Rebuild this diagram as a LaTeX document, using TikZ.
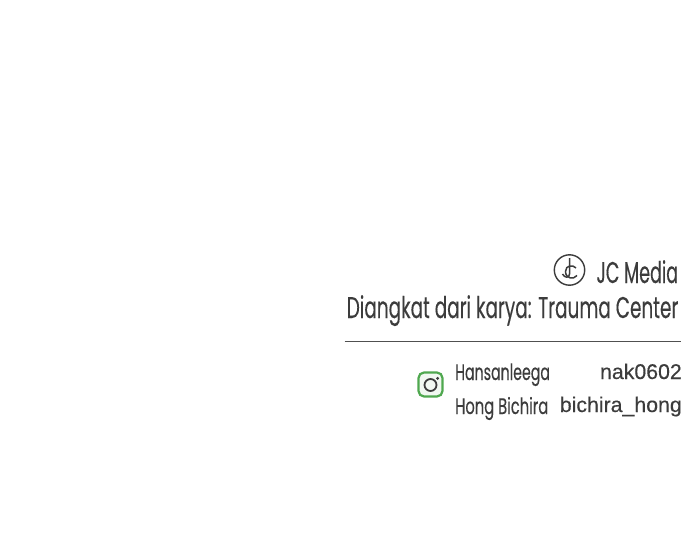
\documentclass[tikz,border=0pt]{standalone}
\usepackage{fontspec}
\setmainfont{Poppins}
\newfontfamily\condfont[FakeStretch=0.615,FakeBold=0.2]{Poppins}
\newfontfamily\jcfont[FakeStretch=0.585,FakeBold=0.2]{Poppins}
\newfontfamily\handlefont[FakeStretch=0.63,FakeBold=0.2]{Poppins}
\newfontfamily\hongfont[FakeStretch=0.655,FakeBold=0.2]{Poppins}
\newfontfamily\plainfont[FakeBold=0.3]{Liberation Sans}
\definecolor{inkdark}{HTML}{3C3C3C}
\definecolor{iggreen}{HTML}{4FA84F}
\tikzset{
  titletext/.style={anchor=base east,inner sep=0pt,text=inkdark,font=\condfont\fontsize{30}{32}\selectfont},
  jctext/.style={anchor=base east,inner sep=0pt,text=inkdark,font=\jcfont\fontsize{30}{32}\selectfont},
  handletext/.style={anchor=base west,inner sep=0pt,text=inkdark,font=\handlefont\fontsize{22.5}{24}\selectfont},
  hongtext/.style={anchor=base west,inner sep=0pt,text=inkdark,font=\hongfont\fontsize{22.5}{24}\selectfont},
  idtext/.style={anchor=base east,inner sep=0pt,text=inkdark,font=\plainfont\fontsize{21.3}{24}\selectfont},
  logoline/.style={draw=inkdark,line width=1.4pt,fill=none}
}
\begin{document}
\begin{tikzpicture}[x=1pt,y=-1pt]
\useasboundingbox (0,0) rectangle (690,548);
\fill[white] (0,0) rectangle (690,548);
% JC logo
\draw[logoline] (569.5,270) circle (15.2);
\draw[logoline,line width=1.5pt] (569.5,258) -- (569.5,274) .. controls (569.5,278.5) and (564.5,278) .. (562.5,274);
\draw[logoline,line width=1.5pt] (576,268) .. controls (573,264.5) and (565.5,265) .. (565.5,271.5) .. controls (565.5,278.5) and (573.5,280) .. (577,275.5);
\node[jctext] (jc) at (678.3,283) {JC Media};
\node[titletext] (source) at (678.5,318) {Diangkat dari karya: Trauma Center};
\coordinate (ruleL) at (344.5,341.5);
\coordinate (ruleR) at (680.5,341.5);
\draw[draw=inkdark!90,line width=1pt] (ruleL) -- (ruleR);
% Instagram icon
\draw[iggreen,line width=2.2pt,fill=iggreen!8,rounded corners=5.5pt] (418.5,372.5) rectangle (442.5,396.5);
\draw[inkdark,line width=1.8pt] (430.5,385) circle (6);
\fill[inkdark] (437.6,378.4) circle (1.6);
\node[handletext] (h1) at (455,380) {Hansanleega};
\node[hongtext] (h2) at (455,414) {Hong Bichira};
\node[idtext] (i1) at (682,379) {nak0602};
\node[idtext] (i2) at (682,412) {bichira\_hong};
\end{tikzpicture}
\end{document}
